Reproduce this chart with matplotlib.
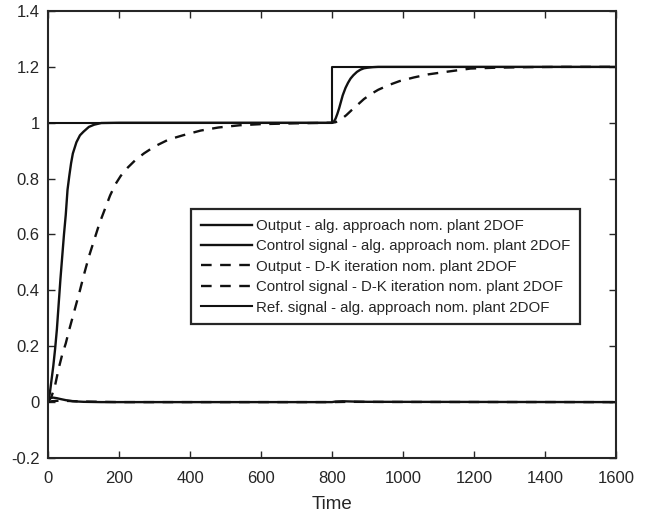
import numpy as np
import matplotlib.pyplot as plt

plt.rcParams['font.family'] = ['Liberation Sans', 'DejaVu Sans']

# output, algebraic approach (nominal plant, 2DOF)
t_out_alg = [0, 5, 10, 15, 20, 25, 30, 35, 40, 45, 50, 55, 60, 65, 70, 80, 90,
             100, 115, 130, 150, 200, 800, 805, 810, 815, 820, 825, 830, 838,
             845, 852, 860, 870, 880, 890, 900, 915, 930, 1000, 1600]
y_out_alg = [0, 0.03, 0.08, 0.13, 0.19, 0.26, 0.35, 0.44, 0.52, 0.60, 0.67,
             0.76, 0.81, 0.855, 0.89, 0.93, 0.955, 0.968, 0.985, 0.993, 0.999,
             1.0, 1.0, 1.004, 1.015, 1.032, 1.052, 1.075, 1.098, 1.125, 1.143,
             1.158, 1.17, 1.182, 1.19, 1.195, 1.197, 1.199, 1.2, 1.2, 1.2]

# control signal, algebraic approach
t_u_alg = [0, 3, 8, 15, 25, 35, 50, 70, 100, 150, 800, 810, 830, 860, 900, 1600]
y_u_alg = [0, 0.01, 0.015, 0.016, 0.014, 0.011, 0.007, 0.003, 0.001, 0, 0,
           0.002, 0.003, 0.002, 0.001, 0]

# output, D-K iteration
t_out_dk = [0, 10, 20, 30, 40, 50, 60, 75, 90, 100, 115, 130, 145, 160, 175,
            190, 205, 225, 245, 270, 300, 340, 380, 430, 480, 540, 600, 700,
            800, 810, 820, 830, 840, 855, 870, 890, 910, 930, 960, 990, 1030,
            1070, 1120, 1190, 1260, 1350, 1450, 1600]
y_out_dk = [0, 0.02, 0.06, 0.12, 0.17, 0.21, 0.26, 0.33, 0.40, 0.45, 0.52,
            0.58, 0.64, 0.69, 0.74, 0.78, 0.81, 0.84, 0.865, 0.89, 0.915, 0.94,
            0.955, 0.972, 0.983, 0.991, 0.995, 0.998, 1.0, 1.002, 1.008, 1.017,
            1.027, 1.045, 1.062, 1.085, 1.103, 1.118, 1.135, 1.149, 1.162,
            1.173, 1.182, 1.194, 1.197, 1.199, 1.2, 1.2]

# control signal, D-K iteration
t_u_dk = [0, 10, 30, 60, 100, 200, 800, 850, 950, 1600]
y_u_dk = [0, 0.003, 0.005, 0.004, 0.002, 0, 0, 0.001, 0.0005, 0]

# reference
t_ref = [0, 800, 800, 1600]
y_ref = [1, 1, 1.2, 1.2]

labels = ['Output - alg. approach nom. plant 2DOF',
          'Control signal - alg. approach nom. plant 2DOF',
          'Output - D-K iteration nom. plant 2DOF',
          'Control signal - D-K iteration nom. plant 2DOF',
          'Ref. signal - alg. approach nom. plant 2DOF']

fig = plt.figure(figsize=(6.53, 5.14), dpi=100)
ax = fig.add_axes([0.0735, 0.109, 0.87, 0.8696])

dash = (0, (4.5, 3.6))
ax.plot(t_out_alg, y_out_alg, color='#111111', lw=1.7, label=labels[0])
ax.plot(t_u_alg, y_u_alg, color='#111111', lw=1.7, label=labels[1])
ax.plot(t_out_dk, y_out_dk, color='#111111', lw=1.7, ls=dash, label=labels[2])
ax.plot(t_u_dk, y_u_dk, color='#111111', lw=1.7, ls=dash, label=labels[3])
ax.plot(t_ref, y_ref, color='#111111', lw=1.5, label=labels[4])

ax.set_xlim(0, 1600)
ax.set_ylim(-0.2, 1.4)
ax.set_xticks(np.arange(0, 1601, 200))
ax.set_yticks(np.arange(-0.2, 1.41, 0.2))
ax.set_yticklabels(['-0.2', '0', '0.2', '0.4', '0.6', '0.8', '1', '1.2', '1.4'])
ax.set_xlabel('Time', fontsize=13.5, color='#262626', labelpad=7)

ax.tick_params(direction='in', length=5, width=1, top=True, right=True,
               labelsize=12, colors='#262626')
ax.tick_params(axis='x', pad=9.5)
ax.tick_params(axis='y', pad=6)
for s in ax.spines.values():
    s.set_linewidth(1.5)
    s.set_color('#262626')

leg = ax.legend(loc='upper left', bbox_to_anchor=(0.252, 0.557), fontsize=10.8,
                handlelength=3.4, handletextpad=0.3, labelspacing=0.43,
                borderpad=0.65, borderaxespad=0, fancybox=False, framealpha=1,
                edgecolor='#262626')
leg.get_frame().set_linewidth(1.6)
for txt in leg.get_texts():
    txt.set_color('#262626')

fig.savefig('out.png', dpi=100)
